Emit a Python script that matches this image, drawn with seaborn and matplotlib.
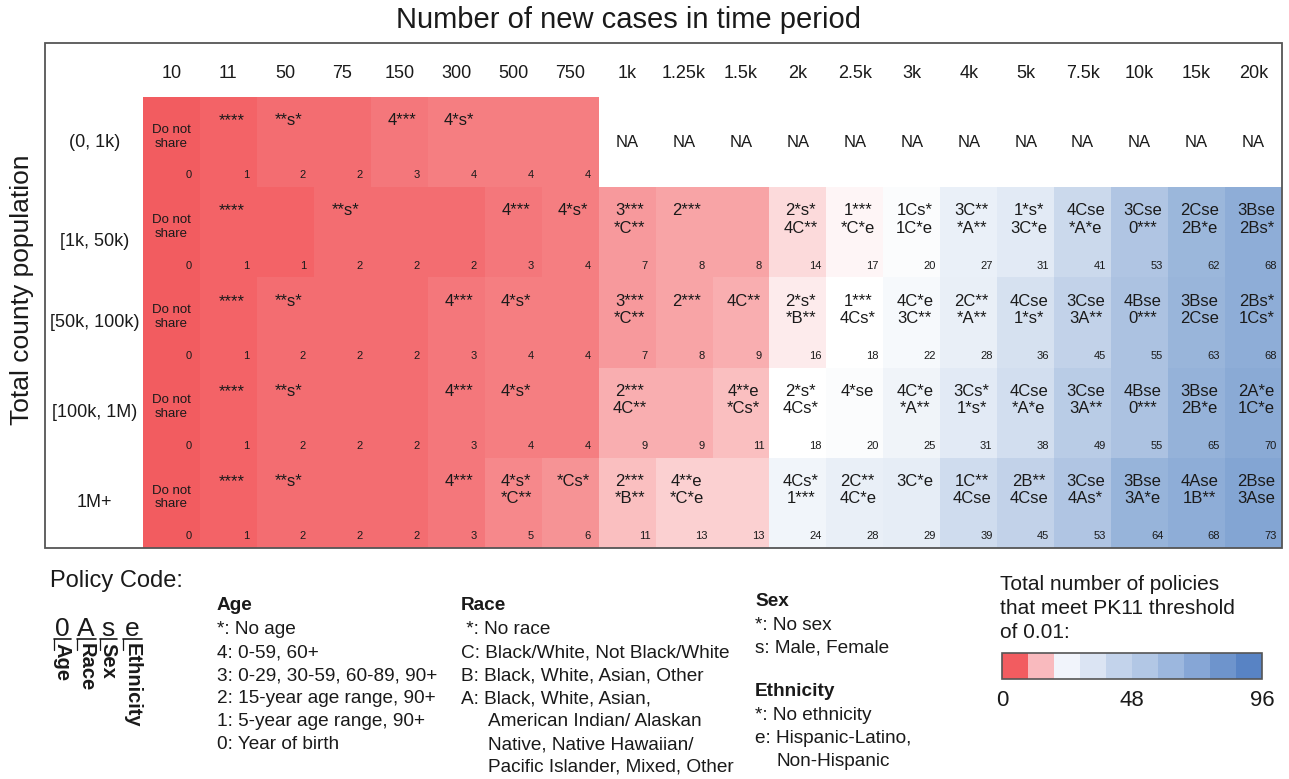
import numpy as np
import pandas as pd
import matplotlib
matplotlib.use("Agg")
import matplotlib.pyplot as plt
import seaborn as sns
from matplotlib.colors import LinearSegmentedColormap, ListedColormap, BoundaryNorm
from matplotlib.cm import ScalarMappable
from matplotlib.patches import Rectangle
from matplotlib.lines import Line2D
from matplotlib.ticker import NullLocator

# ---------------------------------------------------------------- data
case_labels = ["10", "11", "50", "75", "150", "300", "500", "750", "1k", "1.25k",
               "1.5k", "2k", "2.5k", "3k", "4k", "5k", "7.5k", "10k", "15k", "20k"]
population_labels = ["(0, 1k)", "[1k, 50k)", "[50k, 100k)", "[100k, 1M)", "1M+"]

nan = np.nan
# number of policies meeting the PK11 threshold, one list per population group
counts_pop_0_1k = [0, 1, 2, 2, 3, 4, 4, 4, nan, nan, nan, nan, nan, nan, nan, nan, nan, nan, nan, nan]
counts_pop_1k_50k = [0, 1, 1, 2, 2, 2, 3, 4, 7, 8, 8, 14, 17, 20, 27, 31, 41, 53, 62, 68]
counts_pop_50k_100k = [0, 1, 2, 2, 2, 3, 4, 4, 7, 8, 9, 16, 18, 22, 28, 36, 45, 55, 63, 68]
counts_pop_100k_1m = [0, 1, 2, 2, 2, 3, 4, 4, 9, 9, 11, 18, 20, 25, 31, 38, 49, 55, 65, 70]
counts_pop_1m_plus = [0, 1, 2, 2, 2, 3, 5, 6, 11, 13, 13, 24, 28, 29, 39, 45, 53, 64, 68, 73]

# recommended policy codes (blank = same as the cell to the left)
DNS = "Do not\nshare"
codes_pop_0_1k = [DNS, "****", "**s*", "", "4***", "4*s*", "", "",
                  "NA", "NA", "NA", "NA", "NA", "NA", "NA", "NA", "NA", "NA", "NA", "NA"]
codes_pop_1k_50k = [DNS, "****", "", "**s*", "", "", "4***", "4*s*", "3***\n*C**", "2***",
                    "", "2*s*\n4C**", "1***\n*C*e", "1Cs*\n1C*e", "3C**\n*A**", "1*s*\n3C*e",
                    "4Cse\n*A*e", "3Cse\n0***", "2Cse\n2B*e", "3Bse\n2Bs*"]
codes_pop_50k_100k = [DNS, "****", "**s*", "", "", "4***", "4*s*", "", "3***\n*C**", "2***",
                      "4C**", "2*s*\n*B**", "1***\n4Cs*", "4C*e\n3C**", "2C**\n*A**", "4Cse\n1*s*",
                      "3Cse\n3A**", "4Bse\n0***", "3Bse\n2Cse", "2Bs*\n1Cs*"]
codes_pop_100k_1m = [DNS, "****", "**s*", "", "", "4***", "4*s*", "", "2***\n4C**", "",
                     "4**e\n*Cs*", "2*s*\n4Cs*", "4*se", "4C*e\n*A**", "3Cs*\n1*s*", "4Cse\n*A*e",
                     "3Cse\n3A**", "4Bse\n0***", "3Bse\n2B*e", "2A*e\n1C*e"]
codes_pop_1m_plus = [DNS, "****", "**s*", "", "", "4***", "4*s*\n*C**", "*Cs*", "2***\n*B**",
                     "4**e\n*C*e", "", "4Cs*\n1***", "2C**\n4C*e", "3C*e", "1C**\n4Cse",
                     "2B**\n4Cse", "3Cse\n4As*", "3Bse\n3A*e", "4Ase\n1B**", "2Bse\n3Ase"]

counts = [counts_pop_0_1k, counts_pop_1k_50k, counts_pop_50k_100k,
          counts_pop_100k_1m, counts_pop_1m_plus]
codes = [codes_pop_0_1k, codes_pop_1k_50k, codes_pop_50k_100k,
         codes_pop_100k_1m, codes_pop_1m_plus]

legend_ticks = [0, 48, 96]
legend_bins = np.linspace(0, 96, 11)
legend_colors = ["#f25c60", "#f9babe", "#f1f4fb", "#dbe4f3", "#c3d3eb",
                 "#b2c7e5", "#9cb7de", "#86a6d6", "#6e94cc", "#5883c4"]

age_lines = ["*: No age", "4: 0-59, 60+", "3: 0-29, 30-59, 60-89, 90+",
             "2: 15-year age range, 90+", "1: 5-year age range, 90+", "0: Year of birth"]
race_lines = [" *: No race", "C: Black/White, Not Black/White", "B: Black, White, Asian, Other",
              "A: Black, White, Asian,", "American Indian/ Alaskan",
              "Native, Native Hawaiian/", "Pacific Islander, Mixed, Other"]
sex_lines = ["*: No sex", "s: Male, Female"]
eth_lines = ["*: No ethnicity", "e: Hispanic-Latino,", "Non-Hispanic"]
code_chars = ["0", "A", "s", "e"]
code_names = ["Age", "Race", "Sex", "Ethnicity"]

# ---------------------------------------------------------------- style
sns.set_theme(style="white")
plt.rcParams["font.family"] = ["Liberation Sans", "DejaVu Sans"]
TXT = "#1a1a1a"

W, H = 1289, 779
fig = plt.figure(figsize=(W / 100, H / 100), dpi=100)


def fx(px):
    return px / W


def fy(py):
    return 1 - py / H


# outer frame around heatmap + headers
fig.patches.append(Rectangle((fx(45), fy(548)), (1282 - 45) / W, (548 - 43) / H,
                             transform=fig.transFigure, fill=False,
                             edgecolor="#555555", linewidth=1.3, zorder=5))

ax = fig.add_axes([fx(143), fy(548), (1282 - 143) / W, (548 - 97) / H])
df = pd.DataFrame(counts, index=population_labels, columns=case_labels)
cmap = LinearSegmentedColormap.from_list(
    "policies", [(0.0, "#f25c60"), (18 / 96, "#ffffff"), (1.0, "#4f7fc0")])
sns.heatmap(df, cmap=cmap, vmin=0, vmax=96, mask=df.isna(), cbar=False, ax=ax,
            xticklabels=True, yticklabels=True, linewidths=0)
ax.set_facecolor("white")
ax.set_xlabel("")
ax.set_ylabel("")
ax.xaxis.tick_top()
ax.set_xticklabels(case_labels, rotation=0, fontsize=13, color=TXT)
ax.set_yticks(np.arange(len(population_labels)) + np.array([0.5, 0.6, 0.5, 0.5, 0.5]))
ax.set_yticklabels(population_labels, rotation=0, fontsize=13, color=TXT, ha="center")
ax.tick_params(axis="x", length=0, pad=11)
ax.tick_params(axis="y", length=0, pad=35)

n_rows, n_cols = df.shape
for i in range(n_rows):
    for j in range(n_cols):
        code = codes[i][j]
        val = df.iat[i, j]
        if code == "NA":
            ax.text(j + 0.5, i + 0.5, "NA", ha="center", va="center", fontsize=12, color=TXT)
            continue
        if code == DNS:
            ax.text(j + 0.5, i + 0.44, code, ha="center", va="center", fontsize=9.5,
                    color=TXT, linespacing=1.2)
        elif code:
            ax.text(j + 0.55, i + 0.18, code, ha="center", va="top", fontsize=12,
                    color=TXT, linespacing=1.2, multialignment="center")
        if not np.isnan(val):
            ax.text(j + 0.807, i + 0.87, f"{int(val)}", ha="center", va="center",
                    fontsize=8, color=TXT)

fig.text(fx(628), fy(20), "Number of new cases in time period", ha="center", va="center",
         fontsize=21, color=TXT)
fig.text(fx(22), fy(290), "Total county population", rotation=90, ha="center",
         va="center", fontsize=19, color=TXT)

# ---------------------------------------------------------------- policy code key
fig.text(fx(50), fy(581), "Policy Code:", ha="left", va="center", fontsize=17, color=TXT)
char_x = [62, 86, 108, 132]
under = [(54, 71), (77, 96), (100, 117), (123, 142)]
for ch, name, cx, (u0, u1) in zip(code_chars, code_names, char_x, under):
    fig.text(fx(cx), fy(629), ch, ha="center", va="center", fontsize=19, color=TXT)
    fig.lines.append(Line2D([fx(u0), fx(u1)], [fy(639), fy(639)],
                            transform=fig.transFigure, color=TXT, linewidth=1.2))
    fig.lines.append(Line2D([fx(u0), fx(u0)], [fy(639), fy(650)],
                            transform=fig.transFigure, color=TXT, linewidth=0.9))
    fig.text(fx(cx), fy(643), name, rotation=270, ha="center", va="top",
             fontsize=14.5, fontweight="bold", color=TXT)

LEG = 13.7
STEP = 22.9


def block(x, y_head, head, lines, y0, indent=None):
    fig.text(fx(x), fy(y_head), head, ha="left", va="center", fontsize=LEG,
             fontweight="bold", color=TXT)
    for k, line in enumerate(lines):
        xx = x if (indent is None or k not in indent[0]) else indent[1]
        fig.text(fx(xx), fy(y0 + k * STEP), line, ha="left", va="center",
                 fontsize=LEG, color=TXT)


block(217, 606, "Age", age_lines, 630)
block(461, 606, "Race", race_lines, 630, indent=({4, 5, 6}, 488))
block(755, 601, "Sex", sex_lines, 625)
block(755, 692, "Ethnicity", eth_lines, 716, indent=({2}, 777))

# ---------------------------------------------------------------- colour key
for k, line in enumerate(["Total number of policies", "that meet PK11 threshold", "of 0.01:"]):
    fig.text(fx(1000), fy(585 + k * 24), line, ha="left", va="center", fontsize=15, color=TXT)

cax = fig.add_axes([fx(1002), fy(679), (1262 - 1002) / W, (679 - 653) / H])
sm = ScalarMappable(norm=BoundaryNorm(legend_bins, len(legend_colors)),
                    cmap=ListedColormap(legend_colors))
cb = fig.colorbar(sm, cax=cax, orientation="horizontal", ticks=legend_ticks)
cb.ax.xaxis.set_minor_locator(NullLocator())
cb.ax.set_xticklabels([str(t) for t in legend_ticks], fontsize=16, color=TXT)
cb.ax.tick_params(which="both", length=0, pad=8)
cb.outline.set_edgecolor("#555555")
cb.outline.set_linewidth(1.2)

fig.savefig("out.png", dpi=100)
